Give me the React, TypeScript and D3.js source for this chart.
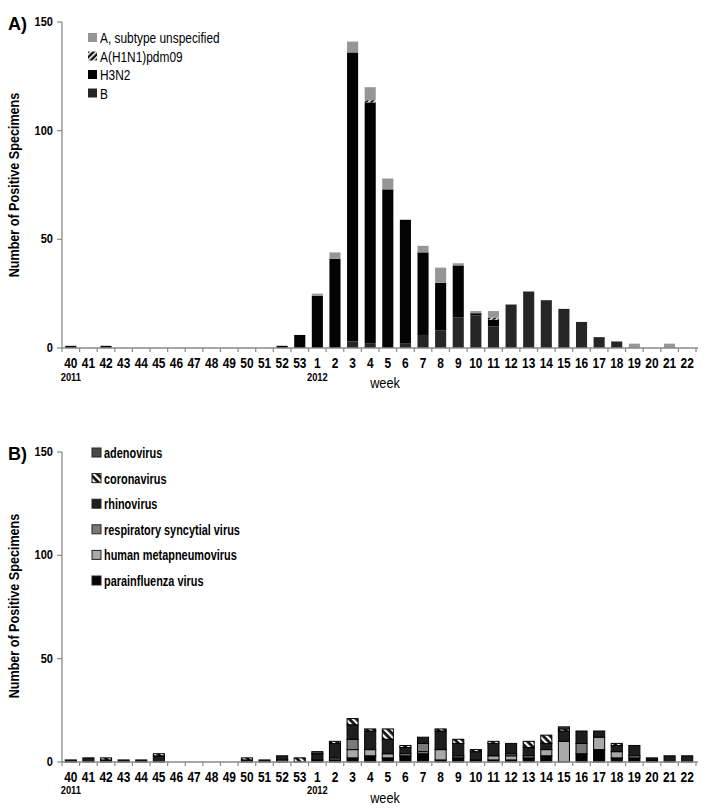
import React from "react";
import * as d3 from "d3";

const weeks = ["40","41","42","43","44","45","46","47","48","49","50","51","52","53","1","2","3","4","5","6","7","8","9","10","11","12","13","14","15","16","17","18","19","20","21","22"];
const yearLabels = [{ week: "40", label: "2011" }, { week: "1", label: "2012" }];
const yTicks = [0, 50, 100, 150];

// Panel A (influenza)
const fluSeries = ["B", "H3N2", "A(H1N1)pdm09", "A, subtype unspecified"];
const fluB =      [0,0,0,0,0,0,0,0,0,0,0,0,0,0, 0,0,3,2,0,2,6,8,14,15,10,20,26,22,18,12,5,3,0,0,0,0];
const fluH3N2 =   [1,0,1,0,0,0,0,0,0,0,0,0,1,6, 24,41,133,111,73,57,38,22,24,1,3,0,0,0,0,0,0,0,0,0,0,0];
const fluH1N1 =   [0,0,0,0,0,0,0,0,0,0,0,0,0,0, 0,0,0,1,0,0,0,0,0,0,1,0,0,0,0,0,0,0,0,0,0,0];
const fluAunsp =  [0,0,0,0,0,0,0,0,0,0,0,0,0,0, 1,3,5,6,5,0,3,7,1,1,3,0,0,0,0,0,0,0,2,0,2,0];
const fluLegend = ["A, subtype unspecified", "A(H1N1)pdm09", "H3N2", "B"];

// Panel B (other respiratory viruses)
const virSeries = ["parainfluenza virus", "human metapneumovirus", "respiratory syncytial virus", "rhinovirus", "coronavirus", "adenovirus"];
const virPara =  [0,0,0,0,0,0,0,0,0,0,0,0,0,0, 1,1,2,3,2,3,4,1,2,1,1,1,2,3,0,4,6,2,2,1,0,0];
const virHmpv =  [0,0,0,0,0,0,0,0,0,0,0,0,1,0, 0,0,4,3,2,1,1,5,0,0,2,2,1,3,10,0,6,3,1,0,0,0];
const virRsv =   [0,0,0,0,0,0,0,0,0,0,0,0,0,0, 0,1,5,0,0,0,4,0,1,0,0,1,0,0,0,5,0,0,0,0,0,0];
const virRhino = [1,2,1,1,1,3,0,0,0,0,1,1,2,0, 3,7,7,9,7,3,3,9,6,4,6,5,4,3,5,6,3,3,5,1,3,3];
const virCorona =[0,0,1,0,0,1,0,0,0,0,1,0,0,2, 0,1,3,1,5,1,0,1,2,1,1,0,3,4,1,0,0,1,0,0,0,0];
const virAdeno = [0,0,0,0,0,0,0,0,0,0,0,0,0,0, 1,0,0,0,0,0,0,0,0,0,0,0,0,0,1,0,0,0,0,0,0,0];
const virLegend = ["adenovirus", "coronavirus", "rhinovirus", "respiratory syncytial virus", "human metapneumovirus", "parainfluenza virus"];

const FONT = "'Liberation Sans', Arial, sans-serif";

const fluFill: Record<string, string> = {
  "B": "#262626",
  "H3N2": "#030303",
  "A(H1N1)pdm09": "url(#hatchA)",
  "A, subtype unspecified": "#969696",
};
const virFill: Record<string, string> = {
  "parainfluenza virus": "#050505",
  "human metapneumovirus": "#a8a8a8",
  "respiratory syncytial virus": "#7a7a7a",
  "rhinovirus": "#1e1e1e",
  "coronavirus": "url(#hatchB)",
  "adenovirus": "#4a4a4a",
};

function NText(props: { x: number; y: number; sx: number; size: number; bold?: boolean; anchor?: string; children: any }) {
  return (
    <text transform={`translate(${props.x},${props.y}) scale(${props.sx},1)`} textAnchor={props.anchor || "start"}
      fontFamily={FONT} fontWeight={props.bold ? "bold" : "normal"} fontSize={props.size} fill="#000">
      {props.children}
    </text>
  );
}

type PanelProps = {
  letter: string;
  top: number;
  bottom: number;
  series: string[];
  values: number[][];
  fills: Record<string, string>;
  stroke: boolean;
  legend: string[];
  legendY0: number;
  legendStep: number;
  legendX: number;
  legendBold: boolean;
  legendScale: number;
  yLabelCenter: number;
  tickLabelY: number;
  yearY: number;
  weekY: number;
};

function Panel(p: PanelProps) {
  const x = d3.scaleBand<string>().domain(weeks).range([62, 696]).paddingInner(0.37).paddingOuter(0.185);
  const y = d3.scaleLinear().domain([0, 150]).range([p.bottom, p.top]);
  const rows = weeks.map((w, i) => {
    const o: any = { week: w };
    p.series.forEach((s, j) => (o[s] = p.values[j][i]));
    return o;
  });
  const stacked = d3.stack<any>().keys(p.series)(rows);
  const step = x.step();
  const x0 = x.range()[0];
  return (
    <g>
      <text x={8} y={p.top + 8} fontFamily={FONT} fontWeight="bold" fontSize={18}>{p.letter})</text>
      <text transform={`translate(19,${p.yLabelCenter}) rotate(-90) scale(0.9,1)`} textAnchor="middle" fontFamily={FONT} fontWeight="bold" fontSize={14}>Number of Positive Specimens</text>
      {/* bars */}
      {stacked.map((layer) => (
        <g key={layer.key}>
          {layer.map((d, i) => {
            const h = y(d[0]) - y(d[1]);
            if (h <= 0) return null;
            return (
              <rect key={i} x={x(weeks[i])} y={y(d[1])} width={x.bandwidth()} height={h}
                fill={p.fills[layer.key]} stroke={p.stroke ? "#000" : "none"} strokeWidth={p.stroke ? 1 : 0} />
            );
          })}
        </g>
      ))}
      {/* y axis */}
      <line x1={62} x2={62} y1={p.top} y2={p.bottom} stroke="#8a8a8a" strokeWidth={1.3} />
      {yTicks.map((t) => (
        <g key={t}>
          <line x1={57} x2={62} y1={y(t)} y2={y(t)} stroke="#8a8a8a" strokeWidth={1.2} />
          <NText x={53} y={y(t) + 4} sx={0.92} size={12} bold anchor="end">{t}</NText>
        </g>
      ))}
      {/* x axis */}
      <line x1={62} x2={698} y1={p.bottom} y2={p.bottom} stroke="#8a8a8a" strokeWidth={1.3} />
      {d3.range(weeks.length + 1).map((k) => (
        <line key={k} x1={x0 + k * step} x2={x0 + k * step} y1={p.bottom} y2={p.bottom + 4} stroke="#8a8a8a" strokeWidth={1.2} />
      ))}
      {weeks.map((w) => (
        <NText key={w} x={(x(w) as number) + x.bandwidth() / 2} y={p.tickLabelY} sx={0.85} size={14} bold anchor="middle">{w}</NText>
      ))}
      {yearLabels.map((yl) => (
        <NText key={yl.label} x={(x(yl.week) as number) + x.bandwidth() / 2} y={p.yearY} sx={0.85} size={11} bold anchor="middle">{yl.label}</NText>
      ))}
      <NText x={385} y={p.weekY} sx={0.85} size={15} anchor="middle">week</NText>
      {/* legend */}
      {p.legend.map((l, i) => {
        const ly = p.legendY0 + i * p.legendStep;
        return (
          <g key={l}>
            <rect x={p.legendX} y={ly - 5} width={9} height={9} fill={p.fills[l]} stroke={p.stroke ? "#222" : "none"} strokeWidth={1} />
            <NText x={p.legendX + 12} y={ly + 5} sx={p.legendScale} size={14} bold={p.legendBold}>{l}</NText>
          </g>
        );
      })}
    </g>
  );
}

export default function App() {
  return (
    <svg width={704} height={811} style={{ display: "block", position: "absolute", left: 0, top: 0, background: "#fff" }}>
      <defs>
        <pattern id="hatchA" patternUnits="userSpaceOnUse" width={4} height={4} patternTransform="rotate(45)">
          <rect width={4} height={4} fill="#111" />
          <rect width={1.6} height={4} fill="#fff" />
        </pattern>
        <pattern id="hatchB" patternUnits="userSpaceOnUse" width={5} height={5} patternTransform="rotate(-45)">
          <rect width={5} height={5} fill="#111" />
          <rect width={2.2} height={5} fill="#fff" />
        </pattern>
      </defs>
      <rect width={704} height={811} fill="#fff" />
      <Panel letter="A" top={22} bottom={348} series={fluSeries}
        values={[fluB, fluH3N2, fluH1N1, fluAunsp]} fills={fluFill} stroke={false}
        legend={fluLegend} legendY0={38} legendStep={18.5} legendX={88} legendBold={false} legendScale={0.85}
        yLabelCenter={185} tickLabelY={368} yearY={381} weekY={388} />
      <Panel letter="B" top={452} bottom={762} series={virSeries}
        values={[virPara, virHmpv, virRsv, virRhino, virCorona, virAdeno]} fills={virFill} stroke={true}
        legend={virLegend} legendY0={453} legendStep={25.6} legendX={92} legendBold={true} legendScale={0.78}
        yLabelCenter={606} tickLabelY={782} yearY={794} weekY={803} />
    </svg>
  );
}
